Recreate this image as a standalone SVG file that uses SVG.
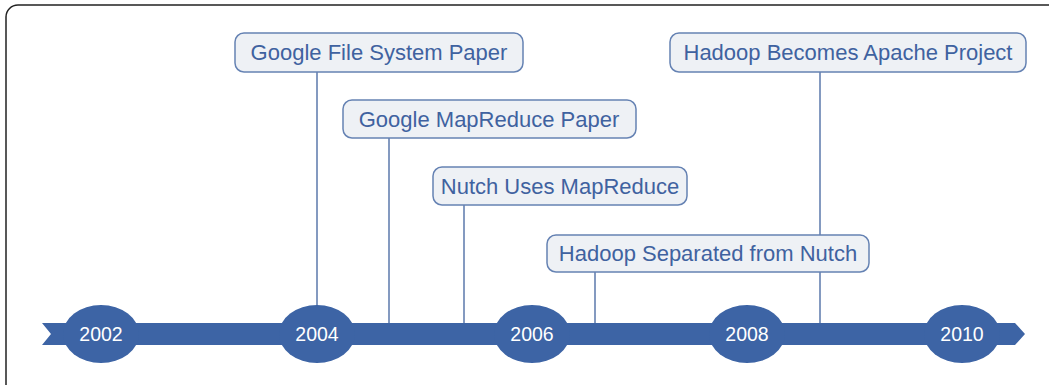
<svg xmlns="http://www.w3.org/2000/svg" width="1049" height="385" viewBox="0 0 1049 385">
<style>
.box{fill:#eef1f5;stroke:#6582b3;stroke-width:1.5}
.lbl{font-family:"Liberation Sans",Arial,sans-serif;font-size:22px;fill:#3f62a0;text-anchor:middle}
.yr{font-family:"Liberation Sans",Arial,sans-serif;font-size:19.5px;fill:#ffffff;text-anchor:middle}
.band{fill:#3d64a5}
.conn line{stroke:#5b78ab;stroke-width:1.5}
</style>
<rect x="0" y="0" width="1049" height="385" fill="#ffffff"/>
<rect x="6" y="5" width="1070" height="420" rx="12" fill="none" stroke="#222" stroke-width="1.5"/>
<g class="conn">
<line x1="317" y1="72" x2="317" y2="310"/>
<line x1="389" y1="138" x2="389" y2="324"/>
<line x1="464" y1="205" x2="464" y2="324"/>
<line x1="595" y1="272" x2="595" y2="324"/>
<line x1="820" y1="72" x2="820" y2="324"/>
</g>
<g id="timeline">
<polygon class="band" points="42,323 1015,323 1025,334 1015,345 42,345 51,334"/>
</g>
<g id="y2002"><ellipse class="band" cx="101" cy="334" rx="38" ry="29"/><text class="yr" x="101" y="341">2002</text></g>
<g id="y2004"><ellipse class="band" cx="317" cy="334" rx="38" ry="29"/><text class="yr" x="317" y="341">2004</text></g>
<g id="y2006"><ellipse class="band" cx="532" cy="334" rx="38" ry="29"/><text class="yr" x="532" y="341">2006</text></g>
<g id="y2008"><ellipse class="band" cx="747" cy="334" rx="38" ry="29"/><text class="yr" x="747" y="341">2008</text></g>
<g id="y2010"><ellipse class="band" cx="962" cy="334" rx="38" ry="29"/><text class="yr" x="962" y="341">2010</text></g>
<g id="gfs"><rect class="box" x="235" y="33" width="288" height="39" rx="9"/><text class="lbl" x="379" y="60">Google File System Paper</text></g>
<g id="gmr"><rect class="box" x="343" y="100" width="293" height="38" rx="9"/><text class="lbl" x="489" y="127">Google MapReduce Paper</text></g>
<g id="nutch"><rect class="box" x="433" y="167" width="254" height="38" rx="9"/><text class="lbl" x="560" y="194">Nutch Uses MapReduce</text></g>
<g id="sep"><rect class="box" x="547" y="235" width="322" height="37" rx="9"/><text class="lbl" x="708" y="261">Hadoop Separated from Nutch</text></g>
<g id="apache"><rect class="box" x="670" y="33" width="356" height="39" rx="9"/><text class="lbl" x="848" y="60">Hadoop Becomes Apache Project</text></g>
</svg>
